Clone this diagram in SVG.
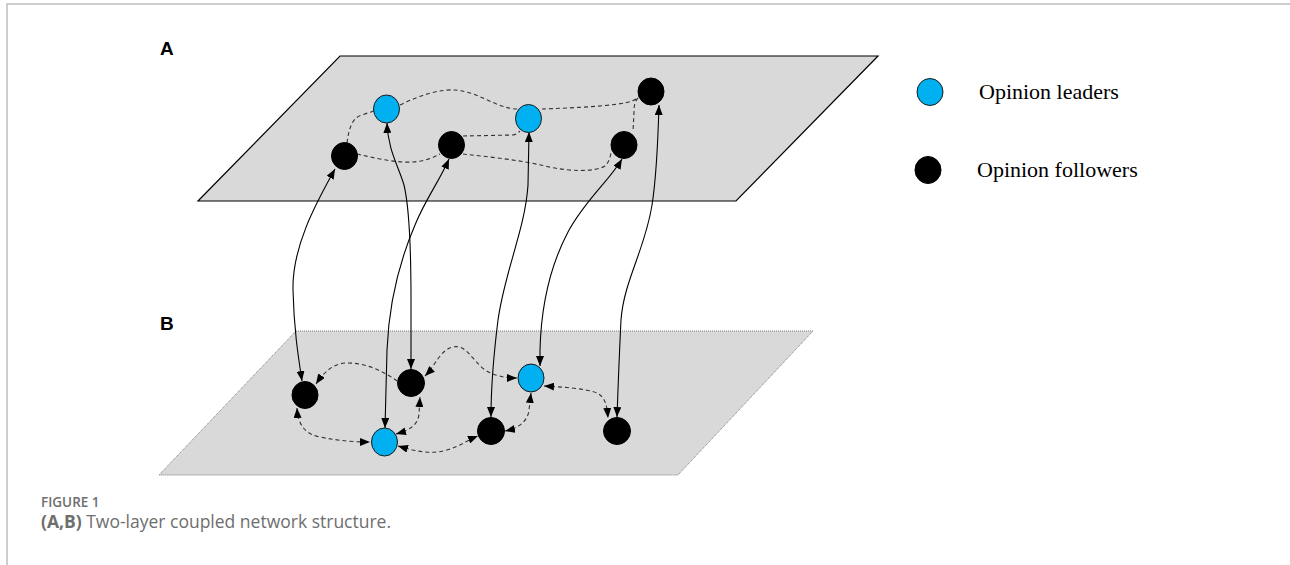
<svg xmlns="http://www.w3.org/2000/svg" width="1290" height="565" viewBox="0 0 1290 565">
<style>
.frame{stroke:#bdbdbd;stroke-width:1.5;fill:none}
.layerA{fill:#d9d9d9;stroke:#000;stroke-width:1.2}
.layerB{fill:#d9d9d9;stroke:#7a7a7a;stroke-width:1;stroke-dasharray:1 1}
.lead{fill:#00b0f0;stroke:#1a1a1a;stroke-width:1}
.foll{fill:#000;stroke:#000;stroke-width:1}
.solid{fill:none;stroke:#000;stroke-width:1.1}
.dash{fill:none;stroke:#333;stroke-width:1.1;stroke-dasharray:4 3}
.lbl{font-family:"Liberation Sans",Arial,sans-serif;font-weight:bold;font-size:19px;fill:#000}
.leg{font-family:"Liberation Serif","Times New Roman",serif;font-size:22px;fill:#000}
.cap1{font-family:"Open Sans",sans-serif;font-weight:600;font-size:13.5px;fill:#6e6e6e}
.cap2{font-family:"Open Sans",sans-serif;font-size:17.5px;fill:#6e6e6e}
</style>
<defs>
<marker id="arr" viewBox="0 0 10 8" refX="10" refY="4" markerWidth="10" markerHeight="8" markerUnits="userSpaceOnUse" orient="auto-start-reverse">
<path d="M0,0 L10,4 L0,8 z" fill="#000"/>
</marker>
</defs>
<rect width="1290" height="565" fill="#fff"/>
<path class="frame" d="M7,565 L7,4 L1290,4"/>
<g id="layer-A">
<polygon class="layerA" points="340,56 878,56 736,201 198,201"/>
</g>
<g id="layer-B">
<polygon class="layerB" points="296,331 813,331 678,475 159,475"/>
</g>
<text class="lbl" x="160" y="55">A</text>
<text class="lbl" x="160" y="330">B</text>
<g id="connectors">
<!-- layer A dashed links -->
<path class="dash" d="M347,143 C349,128 352,118 362,115 C367,113 371,112 374,111"/>
<path class="dash" d="M400,105 C420,95 440,89 455,90 C480,92 495,108 517,109"/>
<path class="dash" d="M542,109 C570,108 620,106 632,101 C635,100 637,98 639,97"/>
<path class="dash" d="M638,98 C635,101 634,105 634,112 L633,132"/>
<path class="dash" d="M463,136 L513,135 C517,134 519,132 520,131"/>
<path class="dash" d="M357,154 C375,158 395,163 413,162 C425,161 433,158 440,154"/>
<path class="dash" d="M463,154 C490,157 520,160 545,166 C570,172 595,172 605,166 C609,162 610,158 611,153"/>
<!-- inter-layer links -->
<path class="solid" marker-start="url(#arr)" marker-end="url(#arr)" d="M335,169 C318,200 292,245 293,290 C294,330 298,355 302,381"/>
<path class="solid" marker-start="url(#arr)" marker-end="url(#arr)" d="M387,123 C388,150 398,165 404,185 C410,210 411,260 411,300 L411,369"/>
<path class="solid" marker-start="url(#arr)" marker-end="url(#arr)" d="M449,159 C440,180 425,200 415,225 C400,260 389,300 387,350 L385,428"/>
<path class="solid" marker-start="url(#arr)" marker-end="url(#arr)" d="M529,132 L528,185 C525,230 505,270 498,320 C493,360 491,390 491,417"/>
<path class="solid" marker-start="url(#arr)" marker-end="url(#arr)" d="M622,159 C610,180 585,200 568,232 C548,270 541,310 540,350 L540,366"/>
<path class="solid" marker-start="url(#arr)" marker-end="url(#arr)" d="M659,105 C658,140 656,180 652,205 C645,250 624,280 621,320 C619,360 618,390 617,417"/>
<!-- layer B dashed links -->
<path class="dash" marker-end="url(#arr)" d="M397,381 C385,372 365,362 345,363 C333,364 324,372 316,384"/>
<path class="dash" marker-start="url(#arr)" marker-end="url(#arr)" d="M297,408 C298,425 305,434 320,437 C340,441 355,442 370,442"/>
<path class="dash" marker-start="url(#arr)" marker-end="url(#arr)" d="M396,434 C410,430 418,425 419,414 L420,397"/>
<path class="dash" marker-start="url(#arr)" marker-end="url(#arr)" d="M398,446 C415,451 430,455 447,450 C460,446 468,440 478,436"/>
<path class="dash" marker-start="url(#arr)" marker-end="url(#arr)" d="M505,431 C520,428 528,420 529,410 L531,393"/>
<path class="dash" marker-start="url(#arr)" marker-end="url(#arr)" d="M425,376 C435,366 440,350 453,347 C466,344 472,360 485,370 C495,376 505,378 517,378"/>
<path class="dash" marker-start="url(#arr)" marker-end="url(#arr)" d="M544,386 C560,387 585,388 597,393 C605,397 607,405 608,418"/>
</g>
<!-- layer A nodes -->
<g id="a-leader-1"><ellipse class="lead" cx="386.5" cy="109" rx="13" ry="14"/></g>
<g id="a-leader-2"><ellipse class="lead" cx="528.5" cy="118.5" rx="13" ry="14"/></g>
<g id="a-follower-1"><ellipse class="foll" cx="344.5" cy="156" rx="13" ry="13.5"/></g>
<g id="a-follower-2"><ellipse class="foll" cx="451.5" cy="145" rx="13" ry="13.5"/></g>
<g id="a-follower-3"><ellipse class="foll" cx="624" cy="145" rx="13" ry="13.5"/></g>
<g id="a-follower-4"><ellipse class="foll" cx="651" cy="91.5" rx="13" ry="13.5"/></g>
<!-- layer B nodes -->
<g id="b-follower-1"><ellipse class="foll" cx="305" cy="395" rx="13" ry="13.5"/></g>
<g id="b-follower-2"><ellipse class="foll" cx="411" cy="383" rx="13.5" ry="13.5"/></g>
<g id="b-leader-1"><ellipse class="lead" cx="384.5" cy="442" rx="13" ry="14"/></g>
<g id="b-follower-3"><ellipse class="foll" cx="491" cy="431" rx="13.5" ry="13.5"/></g>
<g id="b-leader-2"><ellipse class="lead" cx="531" cy="378" rx="13" ry="14"/></g>
<g id="b-follower-4"><ellipse class="foll" cx="617" cy="431" rx="13.5" ry="13.5"/></g>
<!-- legend -->
<g id="legend-leaders">
<ellipse class="lead" cx="930" cy="92" rx="13" ry="13.5"/>
<text class="leg" x="979" y="99">Opinion leaders</text>
</g>
<g id="legend-followers">
<ellipse class="foll" cx="928" cy="170" rx="13" ry="13.5"/>
<text class="leg" x="977" y="177">Opinion followers</text>
</g>
<text class="cap1" x="41" y="507">FIGURE 1</text>
<text class="cap2" x="41" y="528"><tspan font-weight="bold">(A,B)</tspan> Two-layer coupled network structure.</text>
</svg>
